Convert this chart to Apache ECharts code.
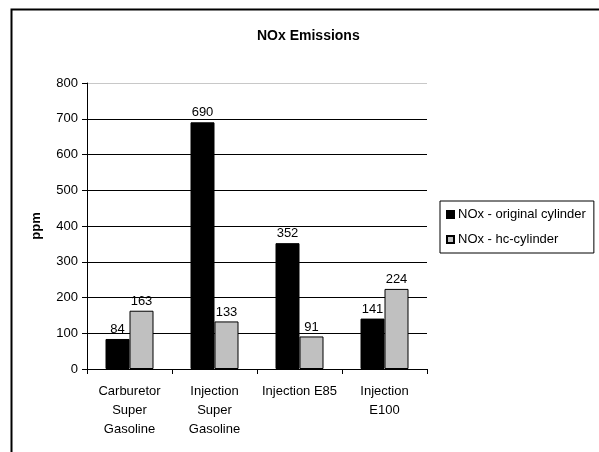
<!DOCTYPE html>
<html>
<head>
<meta charset="utf-8">
<script src="https://cdn.jsdelivr.net/npm/echarts@6/dist/echarts.min.js"></script>
<style>
  html, body { margin: 0; padding: 0; background: #fff; }
  #chart { width: 599px; height: 452px; }
</style>
</head>
<body>
<div id="chart"></div>
<script>
// Engine / fuel configurations on the x axis
const categories = [
  'Carburetor\nSuper\nGasoline',
  'Injection\nSuper\nGasoline',
  'Injection E85',
  'Injection\nE100'
];
// NOx readings in ppm
const originalCylinder = [84, 690, 352, 141];
const hcCylinder = [163, 133, 91, 224];
const seriesNames = ['NOx - original cylinder', 'NOx - hc-cylinder'];
// Value axis range
const yMin = 0;
const yMax = 800;
const yStep = 100;

const FONT = 'Liberation Sans, Arial, sans-serif';

// gridlines: black, except the top one at 800 which is light grey
const gridColors = [];
for (let v = yMin; v <= yMax; v += yStep) gridColors.push(v === yMax ? '#c8c8c8' : '#000');

const chart = echarts.init(document.getElementById('chart'), null, { renderer: 'canvas' });

const labelStyle = {
  show: true,
  position: 'top',
  distance: 3,
  color: '#000',
  fontFamily: FONT,
  fontSize: 13
};

chart.setOption({
  animation: false,
  backgroundColor: '#fff',
  textStyle: { fontFamily: FONT, color: '#000' },
  title: {
    text: 'NOx Emissions',
    left: 252,
    top: 24,
    textStyle: { fontFamily: FONT, fontSize: 14, fontWeight: 'bold', color: '#000' }
  },
  legend: {
    orient: 'vertical',
    left: 440,
    top: 201,
    width: 156,
    padding: [7, 8, 7, 6],
    itemGap: 12,
    itemWidth: 7,
    itemHeight: 7,
    icon: 'rect',
    borderColor: '#000',
    borderWidth: 1,
    textStyle: { fontFamily: FONT, fontSize: 13, color: '#000', padding: [0, 0, 0, -1] },
    data: seriesNames
  },
  grid: { left: 87, right: 172, top: 83, bottom: 83, containLabel: false },
  xAxis: {
    type: 'category',
    data: categories,
    axisLine: { lineStyle: { color: '#000', width: 1 } },
    axisTick: { show: true, length: 5, alignWithLabel: false, lineStyle: { color: '#000' } },
    axisLabel: { interval: 0, color: '#000', fontFamily: FONT, fontSize: 13, lineHeight: 19, margin: 13 }
  },
  yAxis: {
    type: 'value',
    min: yMin,
    max: yMax,
    interval: yStep,
    name: 'ppm',
    nameLocation: 'middle',
    nameRotate: 90,
    nameGap: 44,
    nameTextStyle: { fontFamily: FONT, fontSize: 13, fontWeight: 'bold', color: '#000' },
    axisLine: { show: true, lineStyle: { color: '#000', width: 1 } },
    axisTick: { show: true, length: 5, lineStyle: { color: '#000' } },
    axisLabel: { color: '#000', fontFamily: FONT, fontSize: 13, margin: 9 },
    splitLine: { show: true, lineStyle: { color: gridColors, width: 1 } }
  },
  graphic: [
    {
      type: 'rect',
      silent: true,
      z: 100,
      shape: { x: 11.5, y: 9.5, width: 800, height: 600 },
      style: { fill: 'none', stroke: '#000', lineWidth: 2 }
    }
  ],
  series: [
    {
      name: seriesNames[0],
      type: 'bar',
      data: originalCylinder,
      barWidth: 24,
      barGap: '0%',
      itemStyle: { color: '#000', borderColor: '#000', borderWidth: 1 },
      label: labelStyle
    },
    {
      name: seriesNames[1],
      type: 'bar',
      data: hcCylinder,
      barWidth: 24,
      barGap: '0%',
      itemStyle: { color: '#c0c0c0', borderColor: '#000', borderWidth: 1 },
      label: labelStyle
    }
  ]
});
</script>
</body>
</html>
